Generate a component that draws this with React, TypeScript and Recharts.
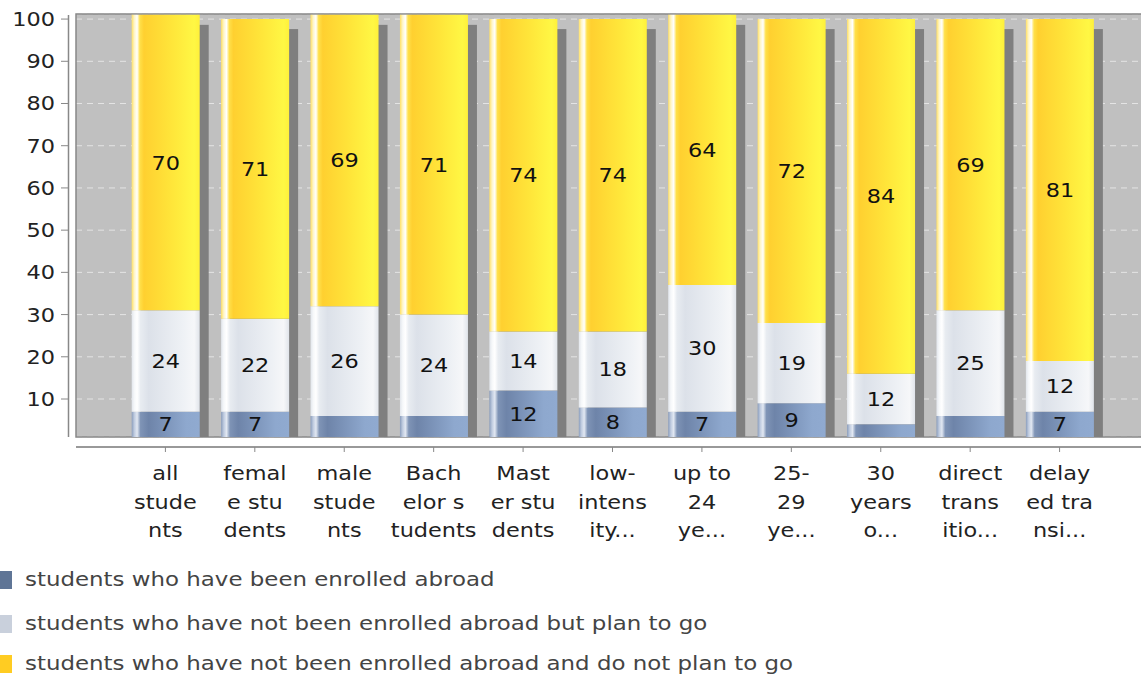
import { BarChart, Bar, XAxis, YAxis, CartesianGrid, LabelList } from 'recharts'

const categories = [
  'all students',
  'female students',
  'male students',
  'Bachelor students',
  'Master students',
  'low-intensity students',
  'up to 24 years',
  '25-29 years',
  '30 years or older',
  'direct transition',
  'delayed transition',
]

// wrapped tick text as it appears under each bar
const tickLines = [
  ['all', 'stude', 'nts'],
  ['femal', 'e stu', 'dents'],
  ['male', 'stude', 'nts'],
  ['Bach', 'elor s', 'tudents'],
  ['Mast', 'er stu', 'dents'],
  ['low-', 'intens', 'ity...'],
  ['up to', '24', 'ye...'],
  ['25-', '29', 'ye...'],
  ['30', 'years', 'o...'],
  ['direct', 'trans', 'itio...'],
  ['delay', 'ed tra', 'nsi...'],
]

const enrolledAbroad = [7, 7, 6, 6, 12, 8, 7, 9, 4, 6, 7]
const planToGo = [24, 22, 26, 24, 14, 18, 30, 19, 12, 25, 12]
const notPlanning = [70, 71, 69, 71, 74, 74, 64, 72, 84, 69, 81]

const yTicks = [10, 20, 30, 40, 50, 60, 70, 80, 90, 100]

const SERIES = [
  { key: 'enrolled', label: 'students who have been enrolled abroad', swatch: '#5f7596', top: 568 },
  { key: 'plan', label: 'students who have not been enrolled abroad but plan to go', swatch: '#c9d0dc', top: 612 },
  { key: 'notPlan', label: 'students who have not been enrolled abroad and do not plan to go', swatch: '#ffcc22', top: 652 },
]

const data = categories.map((name, i) => ({
  name,
  enrolled: enrolledAbroad[i],
  plan: planToGo[i],
  notPlan: notPlanning[i],
}))

const CHART_W = 1149
const CHART_H = 676
const PLOT_LEFT = 76
const PLOT_TOP = 14
const PLOT_BOTTOM = 437
const XAXIS_H = 60
const Y_MIN = 1
const Y_MAX = 101.2
const FONT = '"DejaVu Sans", sans-serif'
const STRETCH = 1.12

function StretchText({ x, y, anchor, children, size = 20, fill = '#222' }: any) {
  return (
    <text
      transform={`translate(${x} ${y}) scale(${STRETCH} 1)`}
      textAnchor={anchor}
      fontFamily={FONT}
      fontSize={size}
      fill={fill}
    >
      {children}
    </text>
  )
}

function YTick({ y, payload }: any) {
  return (
    <g>
      <line x1={61} x2={68} y1={y} y2={y} stroke="#888" />
      <StretchText x={55} y={y + 7} anchor="end">
        {payload.value}
      </StretchText>
    </g>
  )
}

function XTick({ x, payload }: any) {
  const lines = tickLines[payload.index] ?? [String(payload.value)]
  return (
    <g>
      <line x1={x} x2={x} y1={PLOT_BOTTOM + 10} y2={PLOT_BOTTOM + 15} stroke="#888" />
      {lines.map((l: string, i: number) => (
        <StretchText key={i} x={x} y={PLOT_BOTTOM + 43 + i * 28.5} anchor="middle">
          {l}
        </StretchText>
      ))}
    </g>
  )
}

// bottom segment also paints the drop shadow of the whole stack.
// its base is clamped to the axis minimum, so the px/unit ratio uses Y_MIN
function ShadowedBase(props: any) {
  const { x, y, width, height, payload, fill } = props
  const ppu = height / (payload.enrolled - Y_MIN)
  const bottom = y + height
  const total = payload.enrolled + payload.plan + payload.notPlan
  const top = bottom - (total - Y_MIN) * ppu
  return (
    <g>
      <rect x={x + 9} y={top + 10} width={width} height={bottom - top - 10} fill="#7f7f7f" />
      <rect x={x} y={y} width={width} height={height} fill={fill} />
    </g>
  )
}

function SegmentLabel({ x, y, width, height, value }: any) {
  if (value < 7) return null
  return (
    <StretchText x={x + width / 2} y={y + height / 2 + 7} anchor="middle" fill="#111">
      {value}
    </StretchText>
  )
}

export default function App() {
  return (
    <div
      style={{
        position: 'absolute',
        left: 0,
        top: 0,
        width: 1141,
        height: 676,
        overflow: 'hidden',
        background: '#fff',
      }}
    >
      <BarChart
        width={CHART_W}
        height={CHART_H}
        data={data}
        margin={{ top: PLOT_TOP, right: 0, left: 0, bottom: CHART_H - PLOT_BOTTOM - XAXIS_H }}
      >
        <defs>
          <linearGradient id="gYellow" x1="0" y1="0" x2="1" y2="0">
            <stop offset="0%" stopColor="#ffe066" />
            <stop offset="4%" stopColor="#fff6c8" />
            <stop offset="8%" stopColor="#ffffff" />
            <stop offset="12%" stopColor="#ffe04a" />
            <stop offset="18%" stopColor="#ffd030" />
            <stop offset="60%" stopColor="#ffe63a" />
            <stop offset="92%" stopColor="#fff744" />
            <stop offset="100%" stopColor="#fff03a" />
          </linearGradient>
          <linearGradient id="gWhite" x1="0" y1="0" x2="1" y2="0">
            <stop offset="0%" stopColor="#e2e6ec" />
            <stop offset="4%" stopColor="#f6f8fa" />
            <stop offset="8%" stopColor="#ffffff" />
            <stop offset="13%" stopColor="#e8ecf1" />
            <stop offset="25%" stopColor="#dce1e9" />
            <stop offset="75%" stopColor="#eef1f5" />
            <stop offset="92%" stopColor="#f6f7f9" />
            <stop offset="100%" stopColor="#e0e4ea" />
          </linearGradient>
          <linearGradient id="gBlue" x1="0" y1="0" x2="1" y2="0">
            <stop offset="0%" stopColor="#8a9dbc" />
            <stop offset="4%" stopColor="#c0cce0" />
            <stop offset="8%" stopColor="#e2e8f2" />
            <stop offset="13%" stopColor="#7f94b6" />
            <stop offset="25%" stopColor="#6e84a9" />
            <stop offset="80%" stopColor="#8ea8ce" />
            <stop offset="100%" stopColor="#90aad0" />
          </linearGradient>
        </defs>
        <CartesianGrid
          vertical={false}
          fill="#c0c0c0"
          stroke="#e4e4e4"
          strokeDasharray="6 5"
        />
        <XAxis
          dataKey="name"
          height={XAXIS_H}
          axisLine={false}
          tickLine={false}
          interval={0}
          padding={{ left: 44.7, right: 44.7 }}
          tick={<XTick />}
        />
        <YAxis
          width={PLOT_LEFT}
          domain={[Y_MIN, Y_MAX]}
          allowDataOverflow
          ticks={yTicks}
          axisLine={false}
          tickLine={false}
          tick={<YTick />}
        />
        <Bar dataKey="enrolled" stackId="s" barSize={68} fill="url(#gBlue)" shape={<ShadowedBase />} isAnimationActive={false}>
          <LabelList dataKey="enrolled" content={<SegmentLabel />} />
        </Bar>
        <Bar dataKey="plan" stackId="s" barSize={68} fill="url(#gWhite)" isAnimationActive={false}>
          <LabelList dataKey="plan" content={<SegmentLabel />} />
        </Bar>
        <Bar dataKey="notPlan" stackId="s" barSize={68} fill="url(#gYellow)" isAnimationActive={false}>
          <LabelList dataKey="notPlan" content={<SegmentLabel />} />
        </Bar>
        {/* plot frame and the detached axis lines */}
        <rect x={PLOT_LEFT} y={PLOT_TOP} width={CHART_W - PLOT_LEFT} height={PLOT_BOTTOM - PLOT_TOP} fill="none" stroke="#888" strokeWidth={1.5} />
        <line x1={68.5} x2={68.5} y1={PLOT_TOP + 1} y2={PLOT_BOTTOM} stroke="#888" strokeWidth={1.5} />
        <line x1={PLOT_LEFT} x2={CHART_W} y1={PLOT_BOTTOM + 10} y2={PLOT_BOTTOM + 10} stroke="#999" strokeWidth={2} />
      </BarChart>
      {SERIES.map((s) => (
        <div
          key={s.key}
          style={{
            position: 'absolute',
            left: 0,
            top: s.top,
            height: 23,
            whiteSpace: 'nowrap',
            fontFamily: FONT,
            fontSize: 20,
            lineHeight: '23px',
            color: '#444',
          }}
        >
          <span style={{ position: 'absolute', left: -6, top: 3, width: 18, height: 18, background: s.swatch }} />
          <span
            style={{
              position: 'absolute',
              left: 25,
              top: 0,
              transform: 'scaleX(1.145)',
              transformOrigin: 'left center',
            }}
          >
            {s.label}
          </span>
        </div>
      ))}
    </div>
  )
}
